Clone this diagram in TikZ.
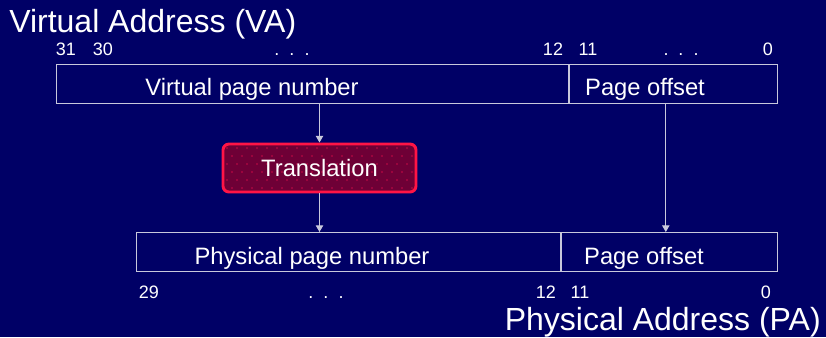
\documentclass[tikz,border=0pt]{standalone}
\usepackage{fontspec}
\setmainfont{Liberation Sans}
\usetikzlibrary{arrows.meta,positioning}

\definecolor{slidebg}{RGB}{0,0,102}
\definecolor{rulegray}{RGB}{200,200,220}
\definecolor{transfill}{RGB}{110,0,54}
\definecolor{transedge}{RGB}{255,20,70}
\definecolor{dotred}{RGB}{200,10,70}

\begin{document}
\begin{tikzpicture}[
    x=0.75pt, y=-0.75pt,
    field/.style={rectangle, draw=rulegray, line width=0.9pt, inner sep=0pt, minimum height=29.25pt},
    fieldtext/.style={anchor=base, text=white, font=\fontsize{17.8}{20}\selectfont},
    bit/.style={anchor=base, text=white, inner sep=0pt, font=\fontsize{13.5}{15}\selectfont},
    title/.style={text=white, inner sep=0pt, font=\fontsize{24}{28}\selectfont},
    transbox/.style={rectangle, draw=transedge, line width=2.2pt, fill=transfill, rounded corners=4.5pt,
        minimum width=144.75pt, minimum height=36pt, text=white, font=\fontsize{17.8}{20}\selectfont,
        path picture={
            \foreach \r in {0,...,5}
                \foreach \c in {0,...,19}
                    \fill[dotred] ([xshift={(\c*10+mod(\r,2)*5+4)*0.75pt}, yshift={-(\r*8+4)*0.75pt}]path picture bounding box.north west) circle (0.6pt);
        }},
    arrow/.style={-{Triangle[width=5.5pt,length=5pt]}, line width=0.9pt, rulegray}
]
\useasboundingbox (0,0) rectangle (826,337);
\fill[slidebg] (0,0) rectangle (826,337);

% virtual address
\node[title, anchor=base west] (vatitle) at (9,32) {Virtual Address (VA)};
\node[field, minimum width=384pt, anchor=north west] (vpn) at (56,64) {};
\node[field, minimum width=156pt, anchor=west] (vpo) at (vpn.east) {};
\node[fieldtext] (vpntext) at (252,95) {Virtual page number};
\node[fieldtext] (vpotext) at (645,95) {Page offset};

\node[bit] (va31) at (66,55) {31};
\node[bit] (va30) at (103,55) {30};
\node[bit] (vadots) at (292,55) {.\ \ .\ \ .};
\node[bit] (va12) at (553,55) {12};
\node[bit] (va11) at (588,55) {11};
\node[bit] (vadotsb) at (681,55) {.\ \ .\ \ .};
\node[bit] (va0) at (768,55) {0};

% translation
\node[transbox] (trans) at (319.5,168) {Translation};

% physical address
\node[field, minimum width=318pt, anchor=north west] (ppn) at (136,232) {};
\node[field, minimum width=162pt, anchor=west] (ppo) at (ppn.east) {};
\node[fieldtext] (ppntext) at (312,264) {Physical page number};
\node[fieldtext] (ppotext) at (644,264) {Page offset};

\node[bit] (pa29) at (149,298) {29};
\node[bit] (padots) at (326,298) {.\ \ .\ \ .};
\node[bit] (pa12) at (546,298) {12};
\node[bit] (pa11) at (580,298) {11};
\node[bit] (pa0) at (766,298) {0};
\node[title, anchor=base east] (patitle) at (821,330) {Physical Address (PA)};

\draw[arrow] (trans.north |- vpn.south) -- (trans.north);
\draw[arrow] (trans.south) -- (trans.south |- ppn.north);
\draw[arrow] ([xshift=-6pt]vpo.south) -- ([xshift=-6pt]vpo.south |- ppo.north);
\end{tikzpicture}
\end{document}
